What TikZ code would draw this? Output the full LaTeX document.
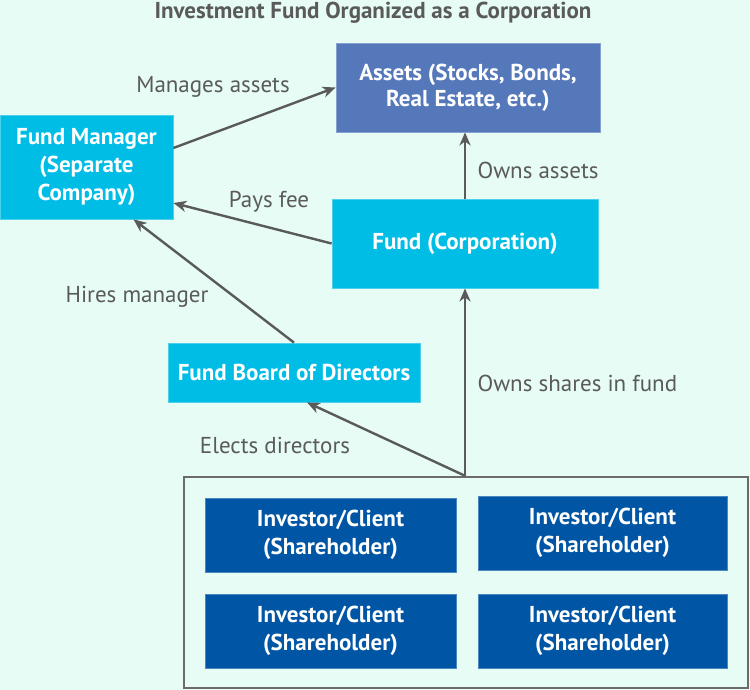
\documentclass[tikz,border=0pt]{standalone}
\usepackage{fontspec}
\setmainfont{PT Sans}
\usepackage{tikz}
\usetikzlibrary{arrows.meta,positioning}
\definecolor{FundBg}{HTML}{E6FCF5}
\definecolor{FundCyan}{HTML}{00BDE6}
\definecolor{FundSlate}{HTML}{5578BA}
\definecolor{FundNavy}{HTML}{0055A4}
\definecolor{FundGray}{HTML}{5A5A5A}

\begin{document}
\begin{tikzpicture}[
  x=1pt,y=-1pt,
  box/.style={fill=FundCyan,draw=FundCyan!70!white,line width=0.8pt,text=white,
    align=center,font=\fontsize{23}{28}\selectfont\bfseries,inner sep=0pt},
  inv/.style={box,fill=FundNavy,draw=FundNavy!70!white,minimum height=74pt},
  lbl/.style={text=FundGray,font=\fontsize{23}{26}\selectfont},
  arrow/.style={-{Stealth[length=13pt,width=11pt,inset=4pt]},line width=2.4pt,color=FundGray}
]
  \useasboundingbox[fill=FundBg] (0,0) rectangle (750,690);
  \node[text=FundGray,font=\fontsize{23}{26}\selectfont\bfseries] (title) at (373,13) {Investment Fund Organized as a Corporation};

  \node[box,fill=FundSlate,draw=FundSlate!70!white,minimum width=264pt,minimum height=89pt,
    font=\fontsize{23}{26}\selectfont\bfseries] (assets) at (468,87.5) {Assets (Stocks, Bonds,\\Real Estate, etc.)};
  \node[box,minimum width=173pt,minimum height=104pt] (fm) at (86.5,167) {Fund Manager\\(Separate\\Company)};
  \node[box,minimum width=266pt,minimum height=89pt] (fund) at (465,243.5) {Fund (Corporation)};
  \node[box,minimum width=252pt,minimum height=59pt] (board) at (294,372.5) {Fund Board of Directors};

  % investors
  \node[draw=FundGray!90!white,line width=2.4pt,fill=FundBg,minimum width=564pt,minimum height=211pt] (group) at (466,582.5) {};
  \node[inv,minimum width=251pt] (i1) at (330.5,535) {Investor/Client\\(Shareholder)};
  \node[inv,minimum width=249pt] (i2) at (602.5,533) {Investor/Client\\(Shareholder)};
  \node[inv,minimum width=251pt] (i3) at (330.5,631) {Investor/Client\\(Shareholder)};
  \node[inv,minimum width=249pt] (i4) at (602.5,631) {Investor/Client\\(Shareholder)};

  \coordinate (top) at (group.north -| fund.north);
  \draw[arrow] ([yshift=19pt]fm.east)--(assets.west);
  \draw[arrow] (fund.north)--(fund.north |- assets.south);
  \draw[arrow] (fund.west)--([yshift=-36pt]fm.east);
  \draw[arrow] (board.north)--([xshift=47pt]fm.south);
  \draw[arrow] (top)--(fund.south);
  \draw[arrow] (top)--([xshift=13pt]board.south);

  \node[lbl] (l1) at (213,87) {Manages assets};
  \node[lbl,anchor=west] (l2) at (474,170) {Owns assets};
  \node[lbl] (l3) at (269,202) {Pays fee};
  \node[lbl] (l4) at (137,297) {Hires manager};
  \node[lbl,anchor=west] (l5) at (474,383) {Owns shares in fund};
  \node[lbl] (l6) at (275,445) {Elects directors};
\end{tikzpicture}
\end{document}
